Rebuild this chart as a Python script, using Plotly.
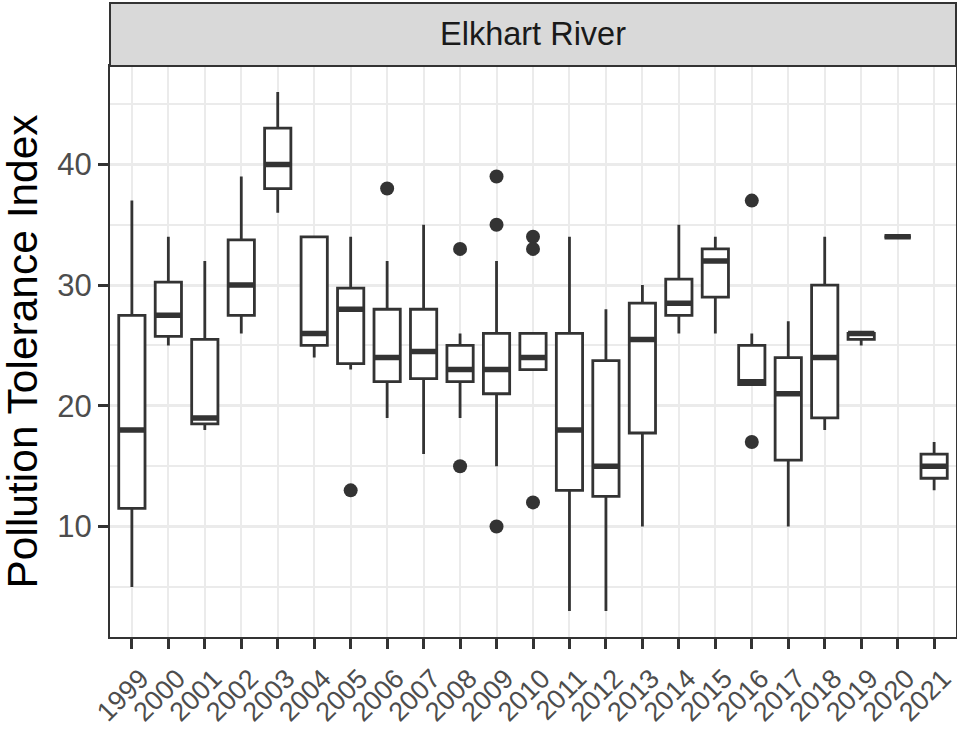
import plotly.graph_objects as go

years = [str(y) for y in range(1999, 2022)]
lower = [5, 25, 18, 26, 36, 24, 23, 19, 16, 19, 15, 23, 3, 3, 10, 26, 26, 21.75, 10, 18, 25, 34, 13]
q1 = [11.5, 25.75, 18.5, 27.5, 38, 25, 23.5, 22, 22.25, 22, 21, 23, 13, 12.5, 17.75, 27.5, 29, 21.75, 15.5, 19, 25.5, 34, 14]
median = [18, 27.5, 19, 30, 40, 26, 28, 24, 24.5, 23, 23, 24, 18, 15, 25.5, 28.5, 32, 22, 21, 24, 26, 34, 15]
q3 = [27.5, 30.25, 25.5, 33.75, 43, 34, 29.75, 28, 28, 25, 26, 26, 26, 23.75, 28.5, 30.5, 33, 25, 24, 30, 26, 34, 16]
upper = [37, 34, 32, 39, 46, 34, 34, 32, 35, 26, 32, 26, 34, 28, 30, 35, 34, 26, 27, 34, 26, 34, 17]

outlier_years = ["2005", "2006", "2008", "2008", "2009", "2009", "2009", "2010", "2010", "2010", "2016", "2016"]
outlier_values = [13, 38, 33, 15, 39, 35, 10, 34, 33, 12, 37, 17]

y_ticks = [10, 20, 30, 40]

DARK = "#333333"
FONT = "Liberation Sans, Arial, sans-serif"

fig = go.Figure()
fig.add_trace(go.Box(
    x=years, q1=q1, median=median, q3=q3, lowerfence=lower, upperfence=upper,
    fillcolor="white", line=dict(color=DARK, width=2.8), whiskerwidth=0,
    width=0.72, boxpoints=False, showlegend=False, hoverinfo="skip",
))
# thick median line (ggplot fatten)
fig.add_trace(go.Box(
    x=years, q1=median, median=median, q3=median, lowerfence=median, upperfence=median,
    fillcolor="rgba(0,0,0,0)", line=dict(color=DARK, width=5.5), whiskerwidth=0,
    width=0.72, boxpoints=False, showlegend=False, hoverinfo="skip",
))
fig.add_trace(go.Scatter(
    x=outlier_years, y=outlier_values, mode="markers",
    marker=dict(color=DARK, size=14), showlegend=False, hoverinfo="skip",
))

fig.update_layout(
    width=957, height=731,
    margin=dict(l=110, r=1, t=66, b=94, autoexpand=False),
    paper_bgcolor="white", plot_bgcolor="white",
    boxmode="overlay",
    font=dict(family=FONT),
    xaxis=dict(
        type="category", categoryorder="array", categoryarray=years,
        range=[-0.6, 22.6], showgrid=True, gridcolor="#EBEBEB", gridwidth=2,
        ticks="outside", ticklen=10, tickwidth=2.5, tickcolor=DARK,
        tickangle=-45, tickfont=dict(size=27, color="#4D4D4D", family=FONT),
        ticklabelshift=9, ticklabelstandoff=3,
        showline=True, mirror=True, linecolor=DARK, linewidth=2, zeroline=False,
        automargin=False,
    ),
    yaxis=dict(
        range=[0.85, 48.15], tickvals=y_ticks, ticktext=[str(v) for v in y_ticks],
        showgrid=True, gridcolor="#EBEBEB", gridwidth=2.5,
        minor=dict(tickvals=[5, 15, 25, 35, 45], showgrid=True, gridcolor="#EBEBEB", gridwidth=1.5, ticklen=0),
        ticks="outside", ticklen=10, tickwidth=2.5, tickcolor=DARK,
        tickfont=dict(size=31, color="#4D4D4D", family=FONT),
        showline=True, mirror=True, linecolor=DARK, linewidth=2, zeroline=False,
        automargin=False,
    ),
    shapes=[dict(type="rect", xref="paper", yref="paper", x0=0, x1=1, y0=1.0, y1=1.1103,
                 fillcolor="#D9D9D9", line=dict(color=DARK, width=2))],
    annotations=[
        dict(text="Elkhart River", xref="paper", yref="paper", x=0.5, y=1.0552,
             xanchor="center", yanchor="middle", showarrow=False,
             font=dict(size=32.5, color="#1A1A1A", family=FONT)),
        dict(text="Pollution Tolerance Index", xref="paper", yref="paper", x=0, y=0.5,
             xshift=-88, xanchor="center", yanchor="middle", textangle=-90, showarrow=False,
             font=dict(size=42.5, color="black", family=FONT)),
    ],
)

fig.write_html(
    "out.html",
    config={"displayModeBar": False},
    post_script="document.body.style.margin='0';document.body.style.overflow='hidden';",
)
